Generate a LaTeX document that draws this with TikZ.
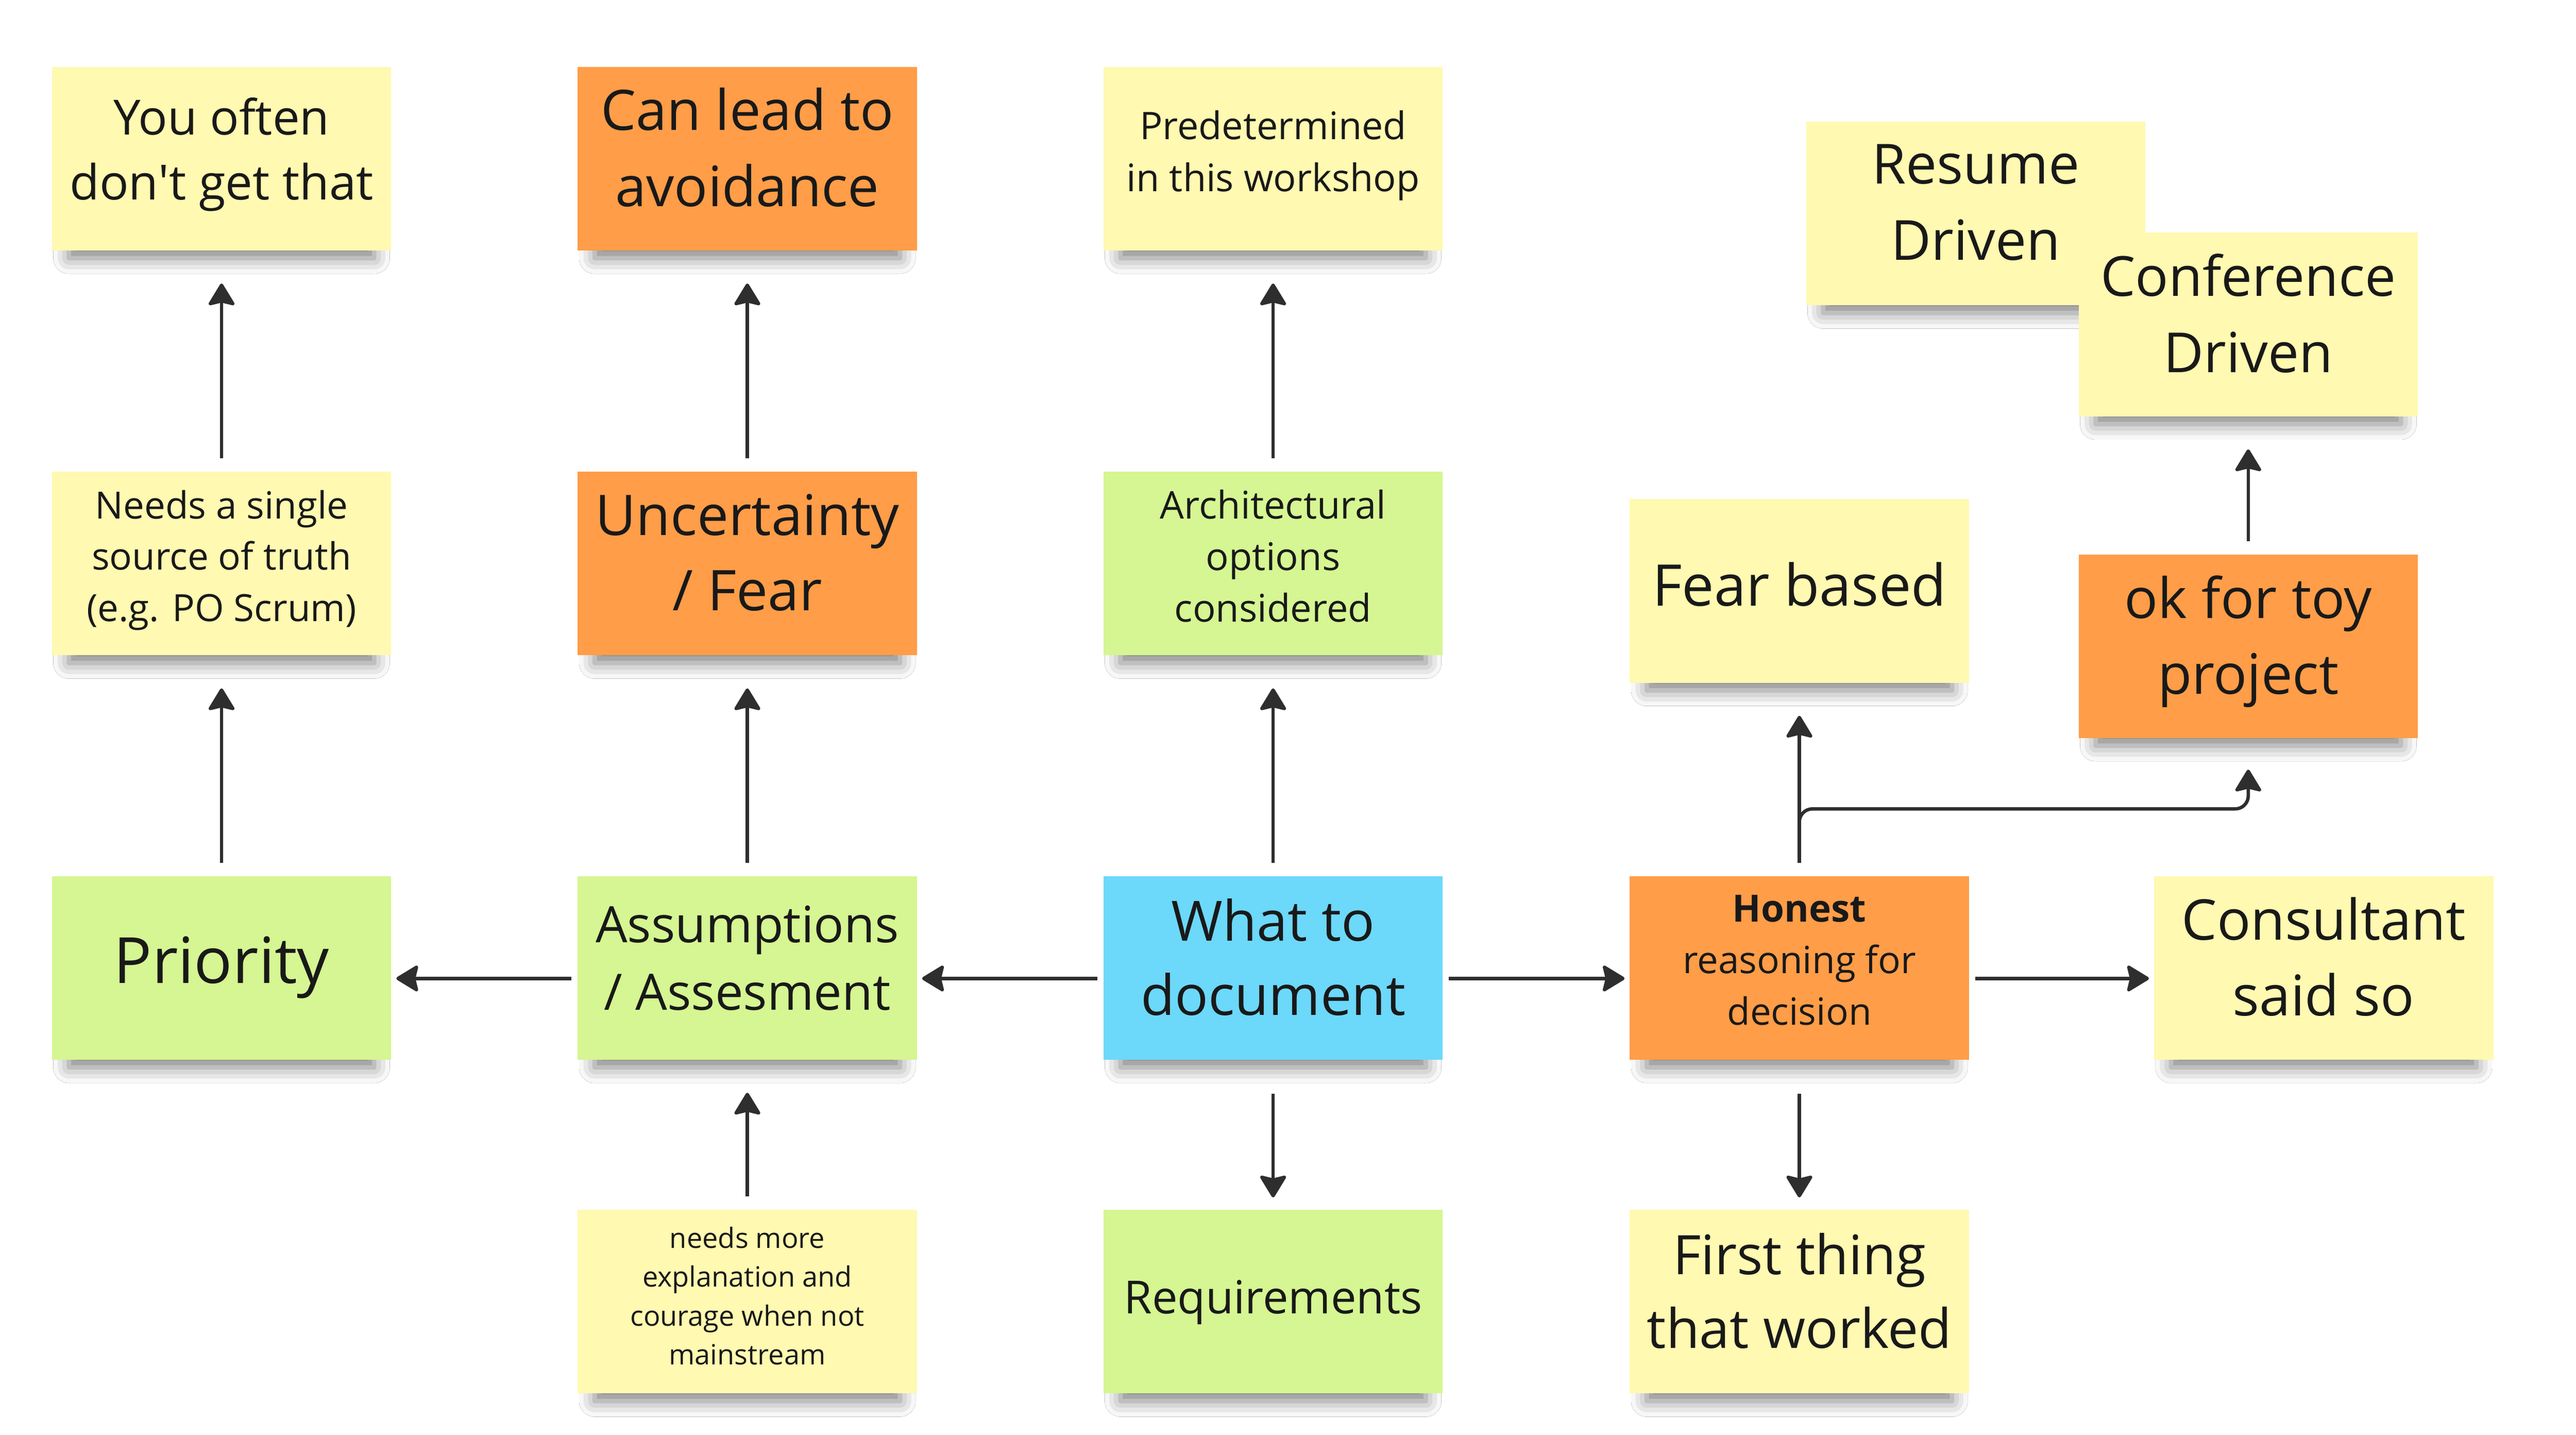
\documentclass[tikz,border=0pt]{standalone}
\usepackage{fontspec}
\setmainfont{Open Sans}
\usetikzlibrary{arrows.meta,shadows.blur}
\definecolor{noteyellow}{HTML}{FFF9B1}
\definecolor{noteorange}{HTML}{FF9D48}
\definecolor{notegreen}{HTML}{D5F692}
\definecolor{noteblue}{HTML}{6CD8FA}
\definecolor{inkgray}{HTML}{2E2E2E}

\begin{document}
\begin{tikzpicture}[
  note/.style={rectangle, minimum width=7.06cm, minimum height=3.82cm, inner sep=0pt, align=center, text=black!90,
    execute at begin node=\strut, execute at end node=\strut,
    blur shadow={shadow xshift=0cm, shadow yshift=-0.39cm, shadow scale=0.9, shadow blur radius=0.36cm, shadow opacity=50}},
  link/.style={draw=inkgray, line width=0.07cm, -{Stealth[length=0.5cm, width=0.6cm, inset=0.07cm, round]}},
  rise/.style={link, shorten <=0.27cm, shorten >=0.68cm},
  fall/.style={link, shorten <=0.70cm, shorten >=0.25cm},
  side/.style={link, shorten <=0.12cm, shorten >=0.10cm}
]

\fill[white] (0,0) rectangle (53.6,29.84);
\useasboundingbox (0,0) rectangle (53.6,29.84);

% Top row
\node[note, fill=noteyellow, font=\fontsize{28.7}{38.4}\selectfont] (often) at (4.61,26.54) {You often\\don\textquotesingle t get that};
\node[note, fill=noteorange, font=\fontsize{33}{45.2}\selectfont] (avoid) at (15.55,26.54) {Can lead to\\avoidance};
\node[note, fill=noteyellow, font=\fontsize{22.5}{30.7}\selectfont] (predet) at (26.49,26.54) {Predetermined\\in this workshop};
\node[note, fill=noteyellow, font=\fontsize{32.7}{45}\selectfont] (resume) at (41.11,25.40) {Resume\\Driven};
\node[note, fill=noteyellow, font=\fontsize{32.7}{45}\selectfont] (conf) at (46.78,23.09) {Conference\\Driven};

% Second row
\node[note, fill=noteyellow, font=\fontsize{22.2}{30.4}\selectfont] (single) at (4.61,18.12) {Needs a single\\source of truth\\(e.g. PO Scrum)};
\node[note, fill=noteorange, font=\fontsize{33.2}{44.4}\selectfont] (uncert) at (15.55,18.12) {Uncertainty\\/ Fear};
\node[note, fill=notegreen, font=\fontsize{22.6}{30.4}\selectfont] (archi) at (26.49,18.12) {Architectural\\options\\considered};
\node[note, fill=noteyellow, font=\fontsize{34}{44}\selectfont] (fear) at (37.44,17.55) {Fear based};
\node[note, fill=noteorange, font=\fontsize{33}{45}\selectfont] (toy) at (46.78,16.40) {ok for toy\\project};

% Main row
\node[note, fill=notegreen, font=\fontsize{37.7}{46}\selectfont] (prio) at (4.61,9.71) {Priority};
\node[note, fill=notegreen, font=\fontsize{29.7}{40}\selectfont] (assum) at (15.55,9.71) {Assumptions\\/ Assesment};
\node[note, fill=noteblue, font=\fontsize{32.9}{43.8}\selectfont] (what) at (26.49,9.71) {What to\\document};
\node[note, fill=noteorange, font=\fontsize{22.2}{30.5}\selectfont] (honest) at (37.44,9.71) {\textbf{Honest}\\reasoning for\\decision};
\node[note, fill=noteyellow, font=\fontsize{33.2}{44.7}\selectfont] (consult) at (48.35,9.71) {Consultant\\said so};

% Bottom row
\node[note, fill=noteyellow, font=\fontsize{16.5}{23}\selectfont] (explain) at (15.55,2.77) {needs more\\explanation and\\courage when not\\mainstream};
\node[note, fill=notegreen, font=\fontsize{27}{36}\selectfont] (req) at (26.49,2.77) {Requirements};
\node[note, fill=noteyellow, font=\fontsize{32.2}{43.5}\selectfont] (first) at (37.44,2.77) {First thing\\that worked};

% Connections
\draw[rise] (prio) -- (single);
\draw[rise] (single) -- (often);
\draw[rise] (assum) -- (uncert);
\draw[rise] (uncert) -- (avoid);
\draw[rise] (what) -- (archi);
\draw[rise] (archi) -- (predet);
\draw[rise] (explain) -- (assum);
\draw[rise] (honest) -- (fear);
\draw[rise] (toy) -- (conf);
\draw[fall] (what) -- (req);
\draw[fall] (honest) -- (first);
\draw[side] ([yshift=-0.22cm]assum.west) -- ([yshift=-0.22cm]prio.east);
\draw[side] ([yshift=-0.22cm]what.west) -- ([yshift=-0.22cm]assum.east);
\draw[side] ([yshift=-0.22cm]what.east) -- ([yshift=-0.22cm]honest.west);
\draw[side] ([yshift=-0.22cm]honest.east) -- ([yshift=-0.22cm]consult.west);
\draw[link, rounded corners=0.27cm, shorten >=0.65cm] ([yshift=0.27cm]honest.north) -- ++(0,1.12) -| (toy.south);

\end{tikzpicture}
\end{document}
